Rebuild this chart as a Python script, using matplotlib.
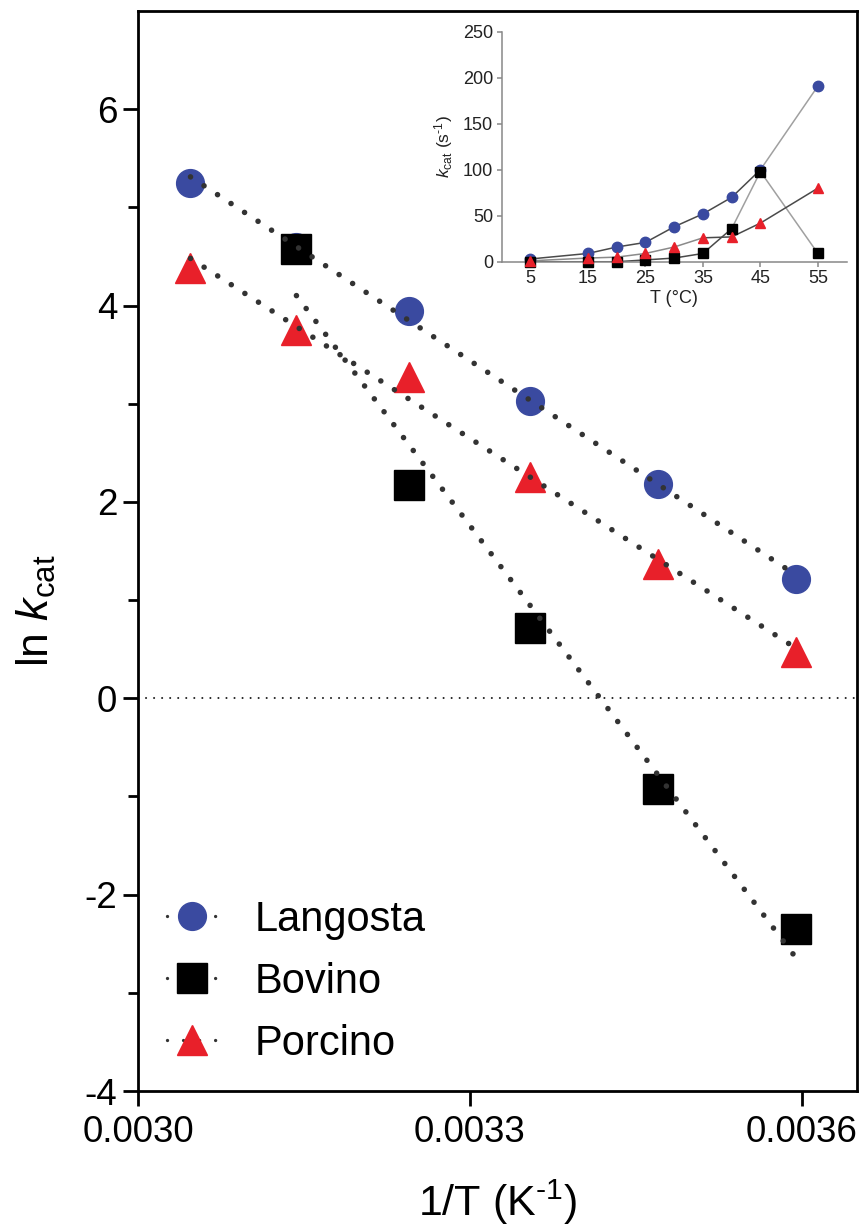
import numpy as np
import matplotlib
matplotlib.use('Agg')
import matplotlib.pyplot as plt
from matplotlib.lines import Line2D

plt.rcParams['font.family'] = ['Liberation Sans', 'DejaVu Sans']
plt.rcParams['mathtext.fontset'] = 'custom'
plt.rcParams['mathtext.rm'] = 'Liberation Sans'
plt.rcParams['mathtext.it'] = 'Liberation Sans:italic'
plt.rcParams['mathtext.default'] = 'regular'
plt.rcParams['axes.unicode_minus'] = False

# Arrhenius data (temperature in degC, ln kcat)
temp_lang = [55, 45, 35, 25, 15, 5]
ln_lang = [5.25, 4.60, 3.95, 3.03, 2.18, 1.22]
temp_bov = [45, 35, 25, 15, 5]
ln_bov = [4.58, 2.17, 0.72, -0.92, -2.35]
temp_porc = [55, 45, 35, 25, 15, 5]
ln_porc = [4.38, 3.75, 3.27, 2.25, 1.37, 0.47]

# inset: kcat (s-1) vs T (degC)
t_inset = [5, 15, 20, 25, 30, 35, 40, 45, 55]
kcat_lang = [3, 9, 16, 21, 38, 52, 70, 100, 191]
kcat_bov = [0, 0, 0, 2, 4, 9, 36, 98, 9]
kcat_porc = [1, 4, 5, 9, 16, 26, 27, 42, 80]

labels = ['Langosta', 'Bovino', 'Porcino']
BLUE = '#3a4aa0'
RED = '#e8202a'
BLACK = '#000000'
DOT = '#333333'

fig = plt.figure(figsize=(8.63, 12.30), dpi=100)
ax = fig.add_axes([0.160, 0.113, 0.833, 0.878])

series = [
    (temp_lang, ln_lang, 'o', BLUE, 20),
    (temp_bov, ln_bov, 's', BLACK, 21.5),
    (temp_porc, ln_porc, '^', RED, 21),
]

handles = []
for (temps, lnk, mk, col, ms) in series:
    x = 1.0 / (np.array(temps) + 273.15)
    y = np.array(lnk)
    ax.plot(x, y, ls='none', marker=mk, ms=ms, color=col, mec=col, zorder=3)
    coef = np.polyfit(x, y, 1)
    xs = np.array([x.min(), x.max()])
    ax.plot(xs, np.polyval(coef, xs), color=DOT, lw=4,
            ls=(0, (0.01, 2.9)), dash_capstyle='round', zorder=4)
    handles.append(Line2D([], [], color=DOT, lw=2.4, ls=(0, (0.01, 4.8)),
                          dash_capstyle='round', marker=mk, ms=ms,
                          mfc=col, mec=col))

ax.axhline(0, color='#222222', lw=1.5, ls=(0, (0.01, 3.85)),
           dash_capstyle='round', zorder=1)

ax.set_xlim(0.0030, 0.00365)
ax.set_ylim(-4, 7)
ax.set_xticks([0.0030, 0.0033, 0.0036])
ax.set_xticklabels(['0.0030', '0.0033', '0.0036'])
ax.set_yticks([-4, -2, 0, 2, 4, 6])
ax.set_yticks([-3, -1, 1, 3, 5], minor=True)
ax.tick_params(which='major', direction='out', length=11, width=2,
               labelsize=26.5)
ax.tick_params(axis='x', pad=6)
ax.tick_params(axis='y', pad=4)
ax.tick_params(axis='y', which='minor', direction='out', length=7.5, width=2)
for s in ax.spines.values():
    s.set_linewidth(2)

ax.set_xlabel(r'1/T (K$^{\text{-}1}$)', fontsize=31, labelpad=20)
ax.set_ylabel(r'ln $\mathit{k}_{\mathrm{cat}}$', fontsize=32)
ax.yaxis.set_label_coords(-0.112, 0.445)

ax.legend(handles, labels, loc='lower left', bbox_to_anchor=(0.04, 0.025),
          frameon=False, fontsize=30, handlelength=1.2, handletextpad=0.9,
          labelspacing=0.53, borderaxespad=0, borderpad=0, numpoints=1)

# inset
ax2 = fig.add_axes([0.5813, 0.7872, 0.3998, 0.187])
inset_series = [
    (kcat_lang, 'o', BLUE, 7, '#4a4a4a', '#a0a0a0'),
    (kcat_bov, 's', BLACK, 6, '#4a4a4a', '#a0a0a0'),
    (kcat_porc, '^', RED, 5, '#8a8a8a', '#4a4a4a'),
]
for (vals, mk, col, k, c1, c2) in inset_series:
    ax2.plot(t_inset[:k + 1], vals[:k + 1], color=c1, lw=1.1, zorder=2)
    ax2.plot(t_inset[k:], vals[k:], color=c2, lw=1.1, zorder=2)
    ax2.plot(t_inset, vals, ls='none', marker=mk, ms=7.5, color=col,
             mec=col, zorder=3, clip_on=False)

ax2.set_xlim(0, 60)
ax2.set_ylim(0, 250)
ax2.set_xticks([5, 15, 25, 35, 45, 55])
ax2.set_yticks([0, 50, 100, 150, 200, 250])
for side in ['top', 'right']:
    ax2.spines[side].set_visible(False)
for side in ['left', 'bottom']:
    ax2.spines[side].set_color('#888888')
    ax2.spines[side].set_linewidth(1.1)
ax2.tick_params(direction='out', length=3.6, width=1.1, color='#888888',
                labelsize=13, labelcolor='#222222', pad=2.5)
ax2.set_xlabel(u'T (\u00b0C)', fontsize=13, color='#222222', labelpad=2)
ax2.set_ylabel(r'$\mathit{k}_{\mathrm{cat}}$ (s$^{\text{-}1}$)', fontsize=12.5,
               color='#222222', labelpad=6)

fig.savefig('out.png', dpi=100)
